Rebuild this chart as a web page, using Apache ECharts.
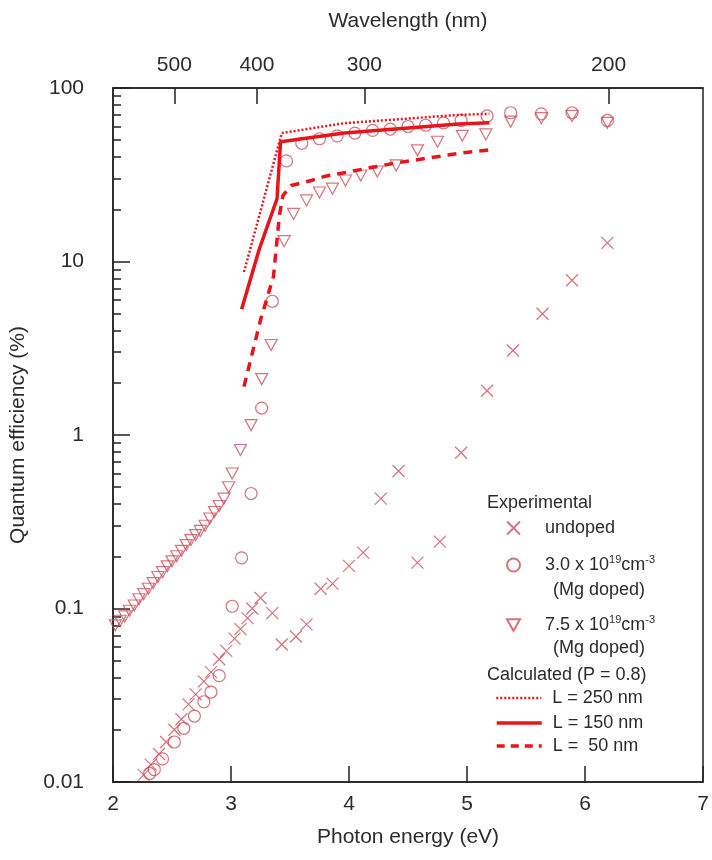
<!DOCTYPE html>
<html>
<head>
<meta charset="utf-8">
<script src="https://cdn.jsdelivr.net/npm/echarts@6/dist/echarts.min.js"></script>
<style>
  html, body { margin: 0; background: #fff; }
  #main { width: 712px; height: 860px; }
</style>
</head>
<body>
<div id="main"></div>
<script>
// photon energy (eV), quantum efficiency (%)
const undoped = [
  [2.26, 0.011], [2.32, 0.0126], [2.39, 0.0145], [2.45, 0.017], [2.52, 0.020],
  [2.58, 0.023], [2.64, 0.028], [2.70, 0.032], [2.77, 0.038], [2.83, 0.043],
  [2.90, 0.051], [2.96, 0.057], [3.03, 0.067], [3.08, 0.076], [3.14, 0.088],
  [3.18, 0.100], [3.25, 0.115], [3.35, 0.094], [3.43, 0.062], [3.55, 0.069],
  [3.64, 0.081], [3.76, 0.13], [3.86, 0.139], [4.00, 0.176], [4.12, 0.21],
  [4.27, 0.43], [4.42, 0.62], [4.58, 0.184], [4.77, 0.243], [4.95, 0.79],
  [5.17, 1.8], [5.39, 3.07], [5.64, 5.0], [5.89, 7.8], [6.19, 12.8]
];
const mg30 = [
  [2.31, 0.0112], [2.35, 0.0118], [2.42, 0.0136], [2.52, 0.017], [2.60, 0.0204],
  [2.69, 0.024], [2.77, 0.029], [2.83, 0.033], [2.90, 0.041], [3.01, 0.103],
  [3.09, 0.196], [3.17, 0.46], [3.26, 1.43], [3.35, 5.9], [3.47, 38],
  [3.60, 48], [3.75, 51], [3.90, 53], [4.05, 55], [4.20, 57], [4.35, 58],
  [4.50, 60], [4.65, 61], [4.80, 63], [4.95, 65], [5.17, 69],
  [5.37, 72], [5.63, 71], [5.89, 72], [6.19, 65]
];
const mg75 = [
  [2.02, 0.080], [2.06, 0.085], [2.10, 0.090], [2.14, 0.097], [2.18, 0.104],
  [2.22, 0.113], [2.26, 0.121], [2.30, 0.130], [2.34, 0.140], [2.38, 0.152],
  [2.42, 0.162], [2.46, 0.175], [2.50, 0.187], [2.54, 0.200], [2.58, 0.215],
  [2.62, 0.232], [2.66, 0.248], [2.70, 0.265], [2.74, 0.28], [2.78, 0.30],
  [2.82, 0.33], [2.86, 0.36], [2.90, 0.39], [2.94, 0.43], [2.98, 0.50],
  [3.01, 0.60], [3.08, 0.82], [3.17, 1.14], [3.26, 2.1], [3.34, 3.3],
  [3.45, 13.1], [3.53, 18.8], [3.64, 22.5], [3.75, 25], [3.86, 26.3],
  [3.97, 29.3], [4.10, 31.3], [4.24, 33], [4.40, 35.8], [4.58, 43.7],
  [4.75, 49], [4.96, 53], [5.16, 54], [5.37, 64], [5.63, 67], [5.89, 69], [6.19, 63]
];
const calcL250 = [[3.11, 8.7], [3.43, 55], [3.96, 62.7], [4.93, 70], [5.19, 71]];
const calcL150 = [[3.09, 5.3], [3.24, 11.8], [3.39, 23], [3.42, 49], [3.96, 55], [4.93, 62], [5.19, 63]];
const calcL50 = [[3.11, 1.9], [3.25, 4.6], [3.36, 8.2], [3.41, 18.4], [3.44, 24], [3.51, 27.4],
  [3.68, 29.3], [3.80, 31], [4.37, 36.7], [4.93, 42], [5.19, 44]];

// top axis: wavelength ticks placed where the figure draws them (in eV)
const topTickEnergy = [2.52, 3.22, 4.13, 6.20];
const topTickLabels = ['500', '400', '300', '200'];
const decades = [0.01, 0.1, 1, 10];

const FONT = 'Liberation Sans';
const INK = '#2b2b2b';
const MARK = '#c9505e';
const LINE = '#e8141c';

const minorTicks = [];
decades.forEach(d => { for (let k = 2; k <= 9; k++) minorTicks.push(Math.log10(k * d)); });

const SYM_CROSS = 'path://M0,0L10,10M10,0L0,10';
const SYM_TRI = 'path://M0,0L10,0L5,9Z';

const markerStyle = { color: 'rgba(255,255,255,0)', borderColor: MARK, borderWidth: 1.2 };

const names = {
  undoped: 'undoped',
  mg30: '3.0 x 10^19 cm^-3 (Mg doped)',
  mg75: '7.5 x 10^19 cm^-3 (Mg doped)',
  l250: 'L = 250 nm',
  l150: 'L = 150 nm',
  l50: 'L = 50 nm'
};

const legendText = {
  fontFamily: FONT, fontSize: 18, color: INK,
  rich: {
    t: { fontFamily: FONT, fontSize: 18, color: INK, lineHeight: 22 },
    s: { fontFamily: FONT, fontSize: 11, color: INK, lineHeight: 22, verticalAlign: 'top' }
  }
};

function legendAt(name, left, top, w, h, text, pad, extra) {
  return Object.assign({
    data: [name], left, top, padding: 0, orient: 'vertical',
    itemWidth: w, itemHeight: h, selectedMode: false,
    formatter: () => text,
    textStyle: Object.assign({ padding: [0, 0, 0, pad] }, legendText)
  }, extra || {});
}
function lineLegend(width, type) {
  return { itemStyle: { opacity: 0 }, lineStyle: { width, type, color: LINE } };
}

const chart = echarts.init(document.getElementById('main'));

chart.setOption({
  backgroundColor: '#fff',
  animation: false,
  grid: { left: 113, right: 9, top: 88, bottom: 78, show: true, borderColor: '#222', borderWidth: 1.5 },
  xAxis: [
    {
      type: 'value', min: 2, max: 7, interval: 1, position: 'bottom',
      name: 'Photon energy (eV)', nameLocation: 'middle', nameGap: 45,
      nameTextStyle: { fontFamily: FONT, fontSize: 21, color: INK },
      axisLine: { onZero: false, lineStyle: { color: '#222', width: 1.5 } },
      axisTick: { inside: true, length: 16, lineStyle: { color: '#222', width: 1.5 } },
      axisLabel: { fontFamily: FONT, fontSize: 21, color: INK, margin: 12 },
      splitLine: { show: false }
    },
    {
      type: 'value', min: 2, max: 7, position: 'top',
      name: 'Wavelength (nm)', nameLocation: 'middle', nameGap: 56,
      nameTextStyle: { fontFamily: FONT, fontSize: 21, color: INK },
      axisLine: { onZero: false, lineStyle: { color: '#222', width: 1.5 } },
      axisTick: { inside: true, length: 16, customValues: topTickEnergy, lineStyle: { color: '#222', width: 1.5 } },
      axisLabel: {
        fontFamily: FONT, fontSize: 21, color: INK, margin: 12,
        customValues: topTickEnergy,
        formatter: v => topTickLabels[topTickEnergy.indexOf(v)]
      },
      splitLine: { show: false }
    }
  ],
  yAxis: [
    {
      type: 'log', logBase: 10, min: 0.01, max: 100,
      name: 'Quantum efficiency (%)', nameLocation: 'middle', nameGap: 84,
      nameTextStyle: { fontFamily: FONT, fontSize: 21, color: INK },
      axisLine: { onZero: false, lineStyle: { color: '#222', width: 1.5 } },
      axisTick: { inside: true, length: 17, lineStyle: { color: '#222', width: 1.5 } },
      axisLabel: {
        fontFamily: FONT, fontSize: 21, color: INK, margin: 29,
        formatter: v => String(+v.toPrecision(2))
      },
      splitLine: { show: false }
    },
    {
      type: 'value', min: -2, max: 2, position: 'left',
      axisLine: { show: false, onZero: false },
      axisTick: { inside: true, length: 8, customValues: minorTicks, lineStyle: { color: '#222', width: 1.5 } },
      axisLabel: { show: false },
      splitLine: { show: false }
    }
  ],
  legend: [
    legendAt(names.undoped, 506, 519, 13, 13, '{t|undoped}', 20),
    legendAt(names.mg30, 506, 554, 13, 13, '{t|3.0 x 10}{s|19}{t|cm}{s|-3}', 20),
    legendAt(names.mg75, 506, 614, 13, 12, '{t|7.5 x 10}{s|19}{t|cm}{s|-3}', 20),
    legendAt(names.l250, 495, 689, 45, 14, '{t|L = 250 nm}', 6, lineLegend(2.5, [2, 2])),
    legendAt(names.l150, 495, 714, 45, 14, '{t|L = 150 nm}', 6, lineLegend(3.5, 'solid')),
    legendAt(names.l50, 495, 737, 45, 14, '{t|L =  50 nm}', 6, lineLegend(3.5, [8, 6]))
  ],
  graphic: [
    { type: 'text', left: 487, top: 494, style: { text: 'Experimental', font: '18px ' + FONT, fill: INK } },
    { type: 'text', left: 553, top: 581, style: { text: '(Mg doped)', font: '18px ' + FONT, fill: INK } },
    { type: 'text', left: 553, top: 639, style: { text: '(Mg doped)', font: '18px ' + FONT, fill: INK } },
    { type: 'text', left: 487, top: 666, style: { text: 'Calculated (P = 0.8)', font: '18px ' + FONT, fill: INK } }
  ],
  series: [
    {
      name: names.undoped, type: 'scatter', data: undoped,
      symbol: SYM_CROSS, symbolSize: 12, itemStyle: markerStyle, silent: true
    },
    {
      name: names.mg30, type: 'scatter', data: mg30,
      symbol: 'circle', symbolSize: 12, itemStyle: markerStyle, silent: true
    },
    {
      name: names.mg75, type: 'scatter', data: mg75,
      symbol: SYM_TRI, symbolSize: [12, 11], itemStyle: markerStyle, silent: true
    },
    {
      name: names.l250, type: 'line', data: calcL250, symbol: 'none', silent: true,
      lineStyle: { color: LINE, width: 2.5, type: [2, 2] }, itemStyle: { color: LINE }
    },
    {
      name: names.l150, type: 'line', data: calcL150, symbol: 'none', silent: true,
      lineStyle: { color: LINE, width: 3.5 }, itemStyle: { color: LINE }
    },
    {
      name: names.l50, type: 'line', data: calcL50, symbol: 'none', silent: true,
      lineStyle: { color: LINE, width: 3.5, type: [9, 7] }, itemStyle: { color: LINE }
    }
  ]
});
</script>
</body>
</html>
